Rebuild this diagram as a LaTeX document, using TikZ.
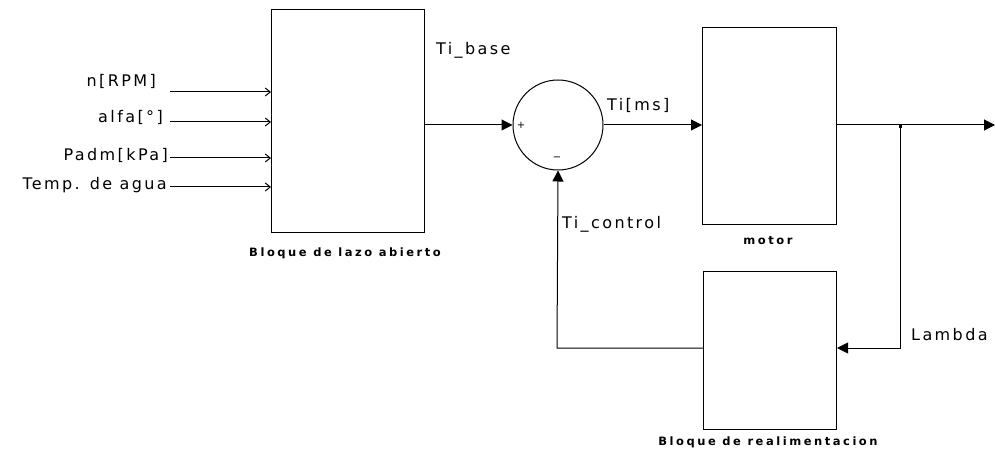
\documentclass[tikz,border=0pt]{standalone}
\usepackage{fontspec}
\setmainfont{DejaVu Sans}
\newfontfamily\lblfont[LetterSpace=15]{DejaVu Sans}
\newfontfamily\smallfont[LetterSpace=22]{DejaVu Sans}
\usetikzlibrary{arrows.meta}
\begin{document}
\begin{tikzpicture}[x=1pt,y=-1pt,
  blk/.style={draw,line width=1pt,inner sep=0pt,anchor=north west},
  lbl/.style={font=\lblfont\fontsize{16}{18}\selectfont,inner sep=0pt},
  small/.style={font=\smallfont\fontsize{11.5}{13}\selectfont\bfseries,inner sep=0pt},
  wire/.style={line width=1pt},
  openarr/.style={wire,-{Straight Barb[length=5pt,width=8pt]}},
  fillarr/.style={wire,-{Triangle[length=11pt,width=11pt]}}]
\useasboundingbox (0,0) rectangle (995,454);
% blocks
\node[blk,minimum width=153pt,minimum height=223pt] (bla) at (271,9) {};
\node[blk,minimum width=134pt,minimum height=197pt] (mot) at (702,27) {};
\node[blk,minimum width=133pt,minimum height=158pt] (fb) at (703,271) {};
\node[draw,circle,line width=1pt,minimum size=90pt,inner sep=0pt] (sum) at (558,125) {};
% block labels
\node[small] (lbla) at (345,253) {Bloque de lazo abierto};
\node[small] (lmot) at (768,241) {motor};
\node[small] (lfb) at (768,442) {Bloque de realimentacion};
% inputs
\coordinate (i1) at (170,92);
\coordinate (i2) at (170,122);
\coordinate (i3) at (170,158);
\coordinate (i4) at (170,187);
\node[lbl,anchor=east] (t1) at (156,81) {n[RPM]};
\node[lbl,anchor=east] (t2) at (163,117) {alfa[°]};
\node[lbl,anchor=east] (t3) at (168,155) {Padm[kPa]};
\node[lbl,anchor=east] (t4) at (167,185) {Temp. de agua};
\draw[openarr] (i1) -- (i1 -| bla.west);
\draw[openarr] (i2) -- (i2 -| bla.west);
\draw[openarr] (i3) -- (i3 -| bla.west);
\draw[openarr] (i4) -- (i4 -| bla.west);
% main path
\draw[fillarr] (bla.east |- sum.west) -- (sum.west);
\node[lbl,anchor=west] (tb) at (436,50) {Ti\_base};
\node[inner sep=0pt,font=\fontsize{10}{10}\selectfont] (plus) at (521,125) {+};
\node[inner sep=0pt,font=\fontsize{10}{10}\selectfont] (minus) at (557,159) {−};
\draw[fillarr] (sum.east) -- (mot.west |- sum.east);
\node[lbl,anchor=west] (tms) at (607,105) {Ti[ms]};
% output
\coordinate (out) at (995,125);
\coordinate (br) at (900,125);
\draw[fillarr] (mot.east |- out) -- (out);
\fill (br) ++(-1.5,0) rectangle ++(3,3);
\coordinate (fbr) at (900,348);
\draw[fillarr] (br) -- (fbr) -- (fb.east |- fbr);
\node[lbl,anchor=west] (lam) at (911,335) {Lambda};
% feedback
\coordinate (fbl) at (557,348);
\draw[fillarr] (fb.west |- fbl) -- (fbl) -- (sum.south);
\node[lbl,anchor=west] (tc) at (562,224) {Ti\_control};
\end{tikzpicture}
\end{document}
